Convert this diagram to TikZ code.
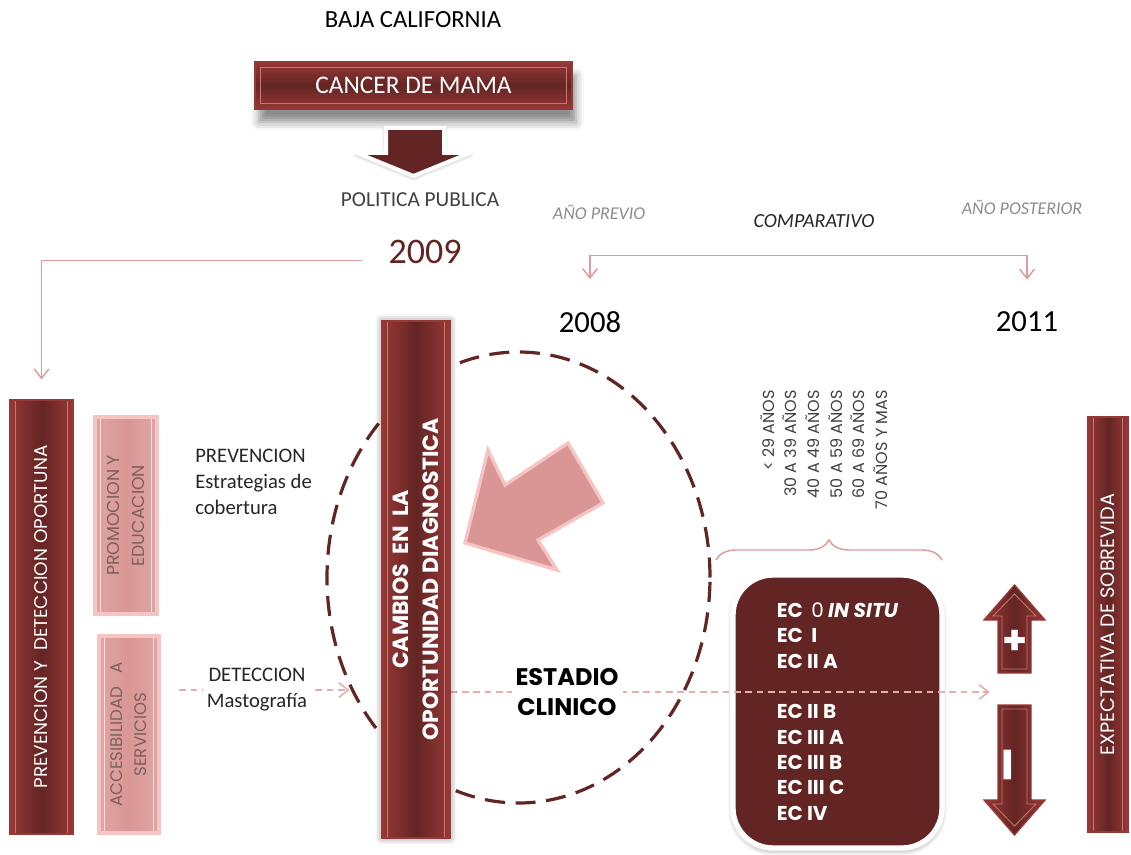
\documentclass[tikz,border=0pt]{standalone}
\usepackage{fontspec}
\setmainfont{Carlito}
\newfontfamily\gothic{Poppins}
\usetikzlibrary{arrows.meta,shadows.blur,decorations.pathreplacing}
\definecolor{vino}{RGB}{99,37,35}
\definecolor{vinomedio}{RGB}{150,56,54}
\definecolor{vinoclaro}{RGB}{200,118,116}
\definecolor{rosa}{RGB}{217,150,148}
\definecolor{rosaclaro}{RGB}{245,196,195}
\definecolor{rosalinea}{RGB}{222,155,153}
\definecolor{grisrosa}{RGB}{125,95,95}
\newcommand\pxu{0.75pt}
\newcommand\fs[2]{\fontsize{#1}{#2}\selectfont}
\pgfdeclarelayer{fondo}
\pgfsetlayers{fondo,main}
\tikzset{
  marco/.style={path picture={\draw[#1,line width=0.6pt]
      ([xshift=4pt,yshift=-4pt]path picture bounding box.north west) rectangle
      ([xshift=-4pt,yshift=4pt]path picture bounding box.south east);}},
  caja/.style={draw=vinomedio,line width=0.8pt,left color=vinomedio,right color=vinomedio,
      middle color=vino,text=white,inner sep=0pt,align=center,marco=vinoclaro},
  cajarosa/.style={draw=rosaclaro,line width=2.5pt,left color=rosa!85!white,right color=rosa!85!white,
      middle color=rosa,text=grisrosa,inner sep=0pt,align=center,marco=rosaclaro!50!white},
  flecha/.style={draw=vinomedio,line width=1pt,left color=vinomedio,right color=vinomedio,middle color=vino},
  texto/.style={inner sep=0pt,align=center},
  linea/.style={rosalinea,line width=1.1pt},
  punta/.style={-{Straight Barb[length=7pt,width=11pt]}},
  discont/.style={rosalinea!80!white,line width=1.2pt,dash pattern=on 5pt off 3.5pt}
}
\begin{document}
\begin{tikzpicture}[x=0.75pt,y=-0.75pt]
\useasboundingbox (0,0) rectangle (1131,855);

\node[texto,font=\fs{18.5}{22}] (baja) at (413,20) {BAJA CALIFORNIA};
\node[caja,top color=vinomedio,bottom color=vinomedio,middle color=vino,minimum width=317*\pxu,minimum height=47*\pxu,font=\fs{19}{23},
  blur shadow={shadow xshift=3pt,shadow yshift=-10pt,shadow blur radius=6pt,shadow opacity=45}] (cancer) at (413.5,85.5) {CANCER DE MAMA};
\draw[white,line width=3pt,fill=vino,blur shadow={shadow xshift=0pt,shadow yshift=-1pt,shadow blur radius=3pt,shadow opacity=40}]
  (386,128) -- (444,128) -- (444,153) -- (470,153) -- (413.5,176) -- (357,153) -- (386,153) -- cycle;
\node[texto,text=black!75,font=\fs{16}{19}] (politica) at (420,200) {POLITICA PUBLICA};
\node[texto,text=vino,font=\fs{27}{30}] (y2009) at (425,252) {2009};
\node[texto,text=black!45,font=\itshape\fs{13.5}{16}] (previo) at (599,212) {AÑO PREVIO};
\node[texto,text=black!85,font=\itshape\fs{15}{18}] (compar) at (814,221) {COMPARATIVO};
\node[texto,text=black!45,font=\itshape\fs{13.5}{16}] (posterior) at (1022,207) {AÑO POSTERIOR};
\node[texto,font=\fs{23}{26}] (y2008) at (590,322) {2008};
\node[texto,font=\fs{23}{26}] (y2011) at (1027,322) {2011};

\draw[vino,line width=2.4pt,dash pattern=on 15pt off 8pt] (518.5,577.5) circle [x radius=191.5*\pxu,y radius=225.5*\pxu];

\node[caja,rotate=90,minimum width=434*\pxu,minimum height=63*\pxu,font=\gothic\fs{13.8}{15}] (prevencion) at (41.5,617) {PREVENCION Y\ \ DETECCION OPORTUNA};
\node[cajarosa,rotate=90,minimum width=197*\pxu,minimum height=62*\pxu,font=\gothic\fs{13}{19}] (promocion) at (126,515.5) {PROMOCION Y\\EDUCACION};
\node[cajarosa,rotate=90,minimum width=197*\pxu,minimum height=60*\pxu,font=\gothic\fs{12.5}{18}] (accesibilidad) at (129,734.5) {ACCESIBILIDAD\ \ \ A\\SERVICIOS};
\node[anchor=west,texto,align=left,text=black!85,font=\fs{15.5}{19.5}] (estrategias) at (195,482) {PREVENCION\\Estrategias de\\cobertura};
\node[fill=white,inner sep=3pt,align=center,text=black!85,font=\fs{15.5}{19.5}] (deteccion) at (257,690) {DETECCION\\Mastografía};
\node[caja,rotate=90,minimum width=517*\pxu,minimum height=68*\pxu,font=\gothic\bfseries\fs{16.5}{22.5},
  blur shadow={shadow xshift=0pt,shadow yshift=0pt,shadow blur radius=5pt,shadow opacity=50}] (cambios) at (416,579.5) {CAMBIOS\ \ EN\ \ LA\\OPORTUNIDAD DIAGNOSTICA};
\draw[rosaclaro,line width=2.5pt,fill=rosa] (465,543) -- (488,450) -- (505,485) -- (568,443) -- (603,503) -- (538,540) -- (557,570) -- cycle;
\node[fill=white,inner sep=3pt,align=center,font=\gothic\bfseries\fs{18}{23}] (estadio) at (567,692) {ESTADIO\\CLINICO};
\node[texto,rotate=90,anchor=east,align=right,text=black!75,font=\gothic\fs{12}{17}] (edades) at (824,390) {< 29 AÑOS\\30 A 39 AÑOS\\40 A 49 AÑOS\\50 A 59 AÑOS\\60 A 69 AÑOS\\70 AÑOS Y MAS};
\draw[linea,decorate,decoration={brace,amplitude=15pt}] (716,560) -- (942,560);
\node[caja,rotate=90,minimum width=415*\pxu,minimum height=40*\pxu,font=\gothic\fs{14.5}{15}] (sobrevida) at (1108,624.5) {EXPECTATIVA DE SOBREVIDA};

\draw[flecha] (1014.5,585) -- (1045,620) -- (1031,620) -- (1031,673) -- (998,673) -- (998,620) -- (984,620) -- cycle;
\draw[vinoclaro,line width=0.6pt] (1014.5,594) -- (1036,616) -- (1027,616) -- (1027,669) -- (1002,669) -- (1002,616) -- (993,616) -- cycle;
\draw[flecha] (998,705) -- (1031,705) -- (1031,800) -- (1045,800) -- (1014.5,835) -- (984,800) -- (998,800) -- cycle;
\draw[vinoclaro,line width=0.6pt] (1002,709) -- (1027,709) -- (1027,804) -- (1036,804) -- (1014.5,826) -- (993,804) -- (1002,804) -- cycle;
\node[texto,text=white,font=\gothic\bfseries\fs{30}{30}] (mas) at (1015,642) {+};
\node[texto,text=white,rotate=90,font=\gothic\bfseries\fs{40}{40}] (menos) at (1015,765) {–};

\begin{pgfonlayer}{fondo}
\node[draw=white,line width=4pt,rounded corners=30pt,fill=vino,text=white,minimum width=209*\pxu,minimum height=273*\pxu,
  align=left,font=\gothic\bfseries\fs{15}{19},blur shadow={shadow xshift=0pt,shadow yshift=-2pt,shadow blur radius=4pt,shadow opacity=40}]
  (estadios) at (837.5,711.5) {EC\ \ {\mdseries 0} \textit{IN SITU}\\EC\ \ I\\EC II A\\[19pt]EC II B\\EC III A\\EC III B\\EC III C\\EC IV};
\draw[linea,punta,shorten >=15pt] ([xshift=-19.5pt,yshift=-6.5pt]y2009.west) -| (prevencion.east);
\draw[linea,{Straight Barb[length=7pt,width=11pt]}-{Straight Barb[length=7pt,width=11pt]},shorten <=24pt,shorten >=24pt]
  (y2008.north) |- ([yshift=-20.6pt]compar.south) -| (y2011.north);
\draw[discont,punta,shorten <=14pt,shorten >=24pt] (accesibilidad.south |- deteccion) -- (cambios.north |- deteccion);
\draw[discont,punta,shorten >=19pt] (cambios.south |- estadio) -- (mas.center |- estadio);
\end{pgfonlayer}
\end{tikzpicture}
\end{document}
